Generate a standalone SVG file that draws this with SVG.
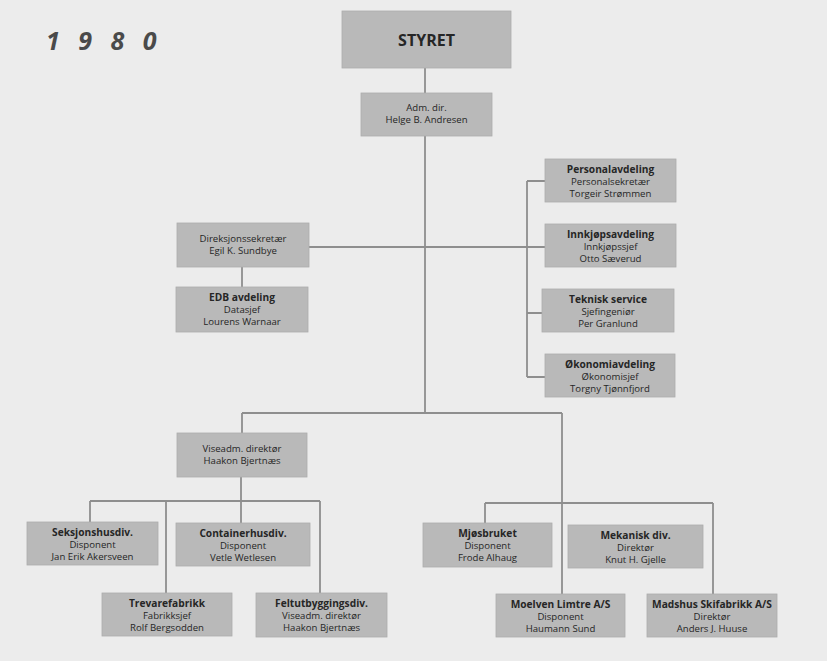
<svg xmlns="http://www.w3.org/2000/svg" width="827" height="661" viewBox="0 0 827 661">
<style>
.bg{fill:#ececec}
.box{fill:#b9b9b9;stroke:#acacac;stroke-width:0.8}
.ln{stroke:#8e8e8e;stroke-width:1.8;fill:none}
text{font-family:"Open Sans","Noto Sans","Liberation Sans",sans-serif;fill:#262626;text-anchor:middle}
.t{font-size:10.2px;font-weight:bold}
.s{font-size:9.6px}
.big{font-size:16px;font-weight:bold}
.year{font-size:25px;font-weight:bold;font-style:italic;fill:#4a4a4a;text-anchor:start;letter-spacing:6px}
</style>
<rect class="bg" x="0" y="0" width="827" height="661"/>
<text class="year" x="46" y="50">1 9 8 0</text>
<g id="connectors">
<path class="ln" d="M425 68V93M425 136V413"/>
<path class="ln" d="M309 247H545"/>
<path class="ln" d="M527 181V377M527 181H545M527 313H542M527 377H545"/>
<path class="ln" d="M242 267V287"/>
<path class="ln" d="M242 413H562M242 413V433M562 413V594"/>
<path class="ln" d="M90 501H320M241 477V523M90 501V522M166 501V593M320 501V593"/>
<path class="ln" d="M485 503H713M485 503V523M713 503V594"/>
</g>
<g id="styret"><rect class="box" x="342" y="11" width="169" height="57"/><text class="big" x="426.5" y="45.5">STYRET</text></g>
<g id="adm"><rect class="box" x="361" y="93" width="131" height="43"/><text class="s" x="426.5" y="111">Adm. dir.</text><text class="s" x="426.5" y="123">Helge B. Andresen</text></g>
<g id="personal"><rect class="box" x="545" y="159" width="131" height="43"/><text class="t" x="610.5" y="172.5">Personalavdeling</text><text class="s" x="610.5" y="184.5">Personalsekretær</text><text class="s" x="610.5" y="196.5">Torgeir Strømmen</text></g>
<g id="innkjop"><rect class="box" x="545" y="224" width="131" height="43"/><text class="t" x="610.5" y="237.5">Innkjøpsavdeling</text><text class="s" x="610.5" y="249.5">Innkjøpssjef</text><text class="s" x="610.5" y="261.5">Otto Sæverud</text></g>
<g id="teknisk"><rect class="box" x="542" y="289" width="132" height="43"/><text class="t" x="608" y="302.5">Teknisk service</text><text class="s" x="608" y="314.5">Sjefingeniør</text><text class="s" x="608" y="326.5">Per Granlund</text></g>
<g id="okonomi"><rect class="box" x="545" y="354" width="130" height="43"/><text class="t" x="610" y="367.5">Økonomiavdeling</text><text class="s" x="610" y="379.5">Økonomisjef</text><text class="s" x="610" y="391.5">Torgny Tjønnfjord</text></g>
<g id="direksjon"><rect class="box" x="177" y="223" width="132" height="44"/><text class="s" x="243" y="242">Direksjonssekretær</text><text class="s" x="243" y="254">Egil K. Sundbye</text></g>
<g id="edb"><rect class="box" x="176" y="287" width="132" height="45"/><text class="t" x="242" y="301">EDB avdeling</text><text class="s" x="242" y="313">Datasjef</text><text class="s" x="242" y="325">Lourens Warnaar</text></g>
<g id="viseadm"><rect class="box" x="177" y="433" width="130" height="44"/><text class="s" x="242" y="452">Viseadm. direktør</text><text class="s" x="242" y="464">Haakon Bjertnæs</text></g>
<g id="seksjon"><rect class="box" x="27" y="522" width="131" height="43"/><text class="t" x="92.5" y="535.5">Seksjonshusdiv.</text><text class="s" x="92.5" y="547.5">Disponent</text><text class="s" x="92.5" y="559.5">Jan Erik Akersveen</text></g>
<g id="container"><rect class="box" x="176" y="523" width="134" height="43"/><text class="t" x="243" y="536.5">Containerhusdiv.</text><text class="s" x="243" y="548.5">Disponent</text><text class="s" x="243" y="560.5">Vetle Wetlesen</text></g>
<g id="trevare"><rect class="box" x="102" y="593" width="130" height="43"/><text class="t" x="167" y="606.5">Trevarefabrikk</text><text class="s" x="167" y="618.5">Fabrikksjef</text><text class="s" x="167" y="630.5">Rolf Bergsodden</text></g>
<g id="feltut"><rect class="box" x="256" y="593" width="131" height="44"/><text class="t" x="321.5" y="607">Feltutbyggingsdiv.</text><text class="s" x="321.5" y="619">Viseadm. direktør</text><text class="s" x="321.5" y="631">Haakon Bjertnæs</text></g>
<g id="mjos"><rect class="box" x="423" y="523" width="129" height="44"/><text class="t" x="487.5" y="537">Mjøsbruket</text><text class="s" x="487.5" y="549">Disponent</text><text class="s" x="487.5" y="561">Frode Alhaug</text></g>
<g id="mekanisk"><rect class="box" x="568" y="525" width="135" height="43"/><text class="t" x="635.5" y="538.5">Mekanisk div.</text><text class="s" x="635.5" y="550.5">Direktør</text><text class="s" x="635.5" y="562.5">Knut H. Gjelle</text></g>
<g id="moelven"><rect class="box" x="496" y="594" width="129" height="43"/><text class="t" x="560.5" y="607.5">Moelven Limtre A/S</text><text class="s" x="560.5" y="619.5">Disponent</text><text class="s" x="560.5" y="631.5">Haumann Sund</text></g>
<g id="madshus"><rect class="box" x="647" y="594" width="130" height="43"/><text class="t" x="712" y="607.5">Madshus Skifabrikk A/S</text><text class="s" x="712" y="619.5">Direktør</text><text class="s" x="712" y="631.5">Anders J. Huuse</text></g>
</svg>
